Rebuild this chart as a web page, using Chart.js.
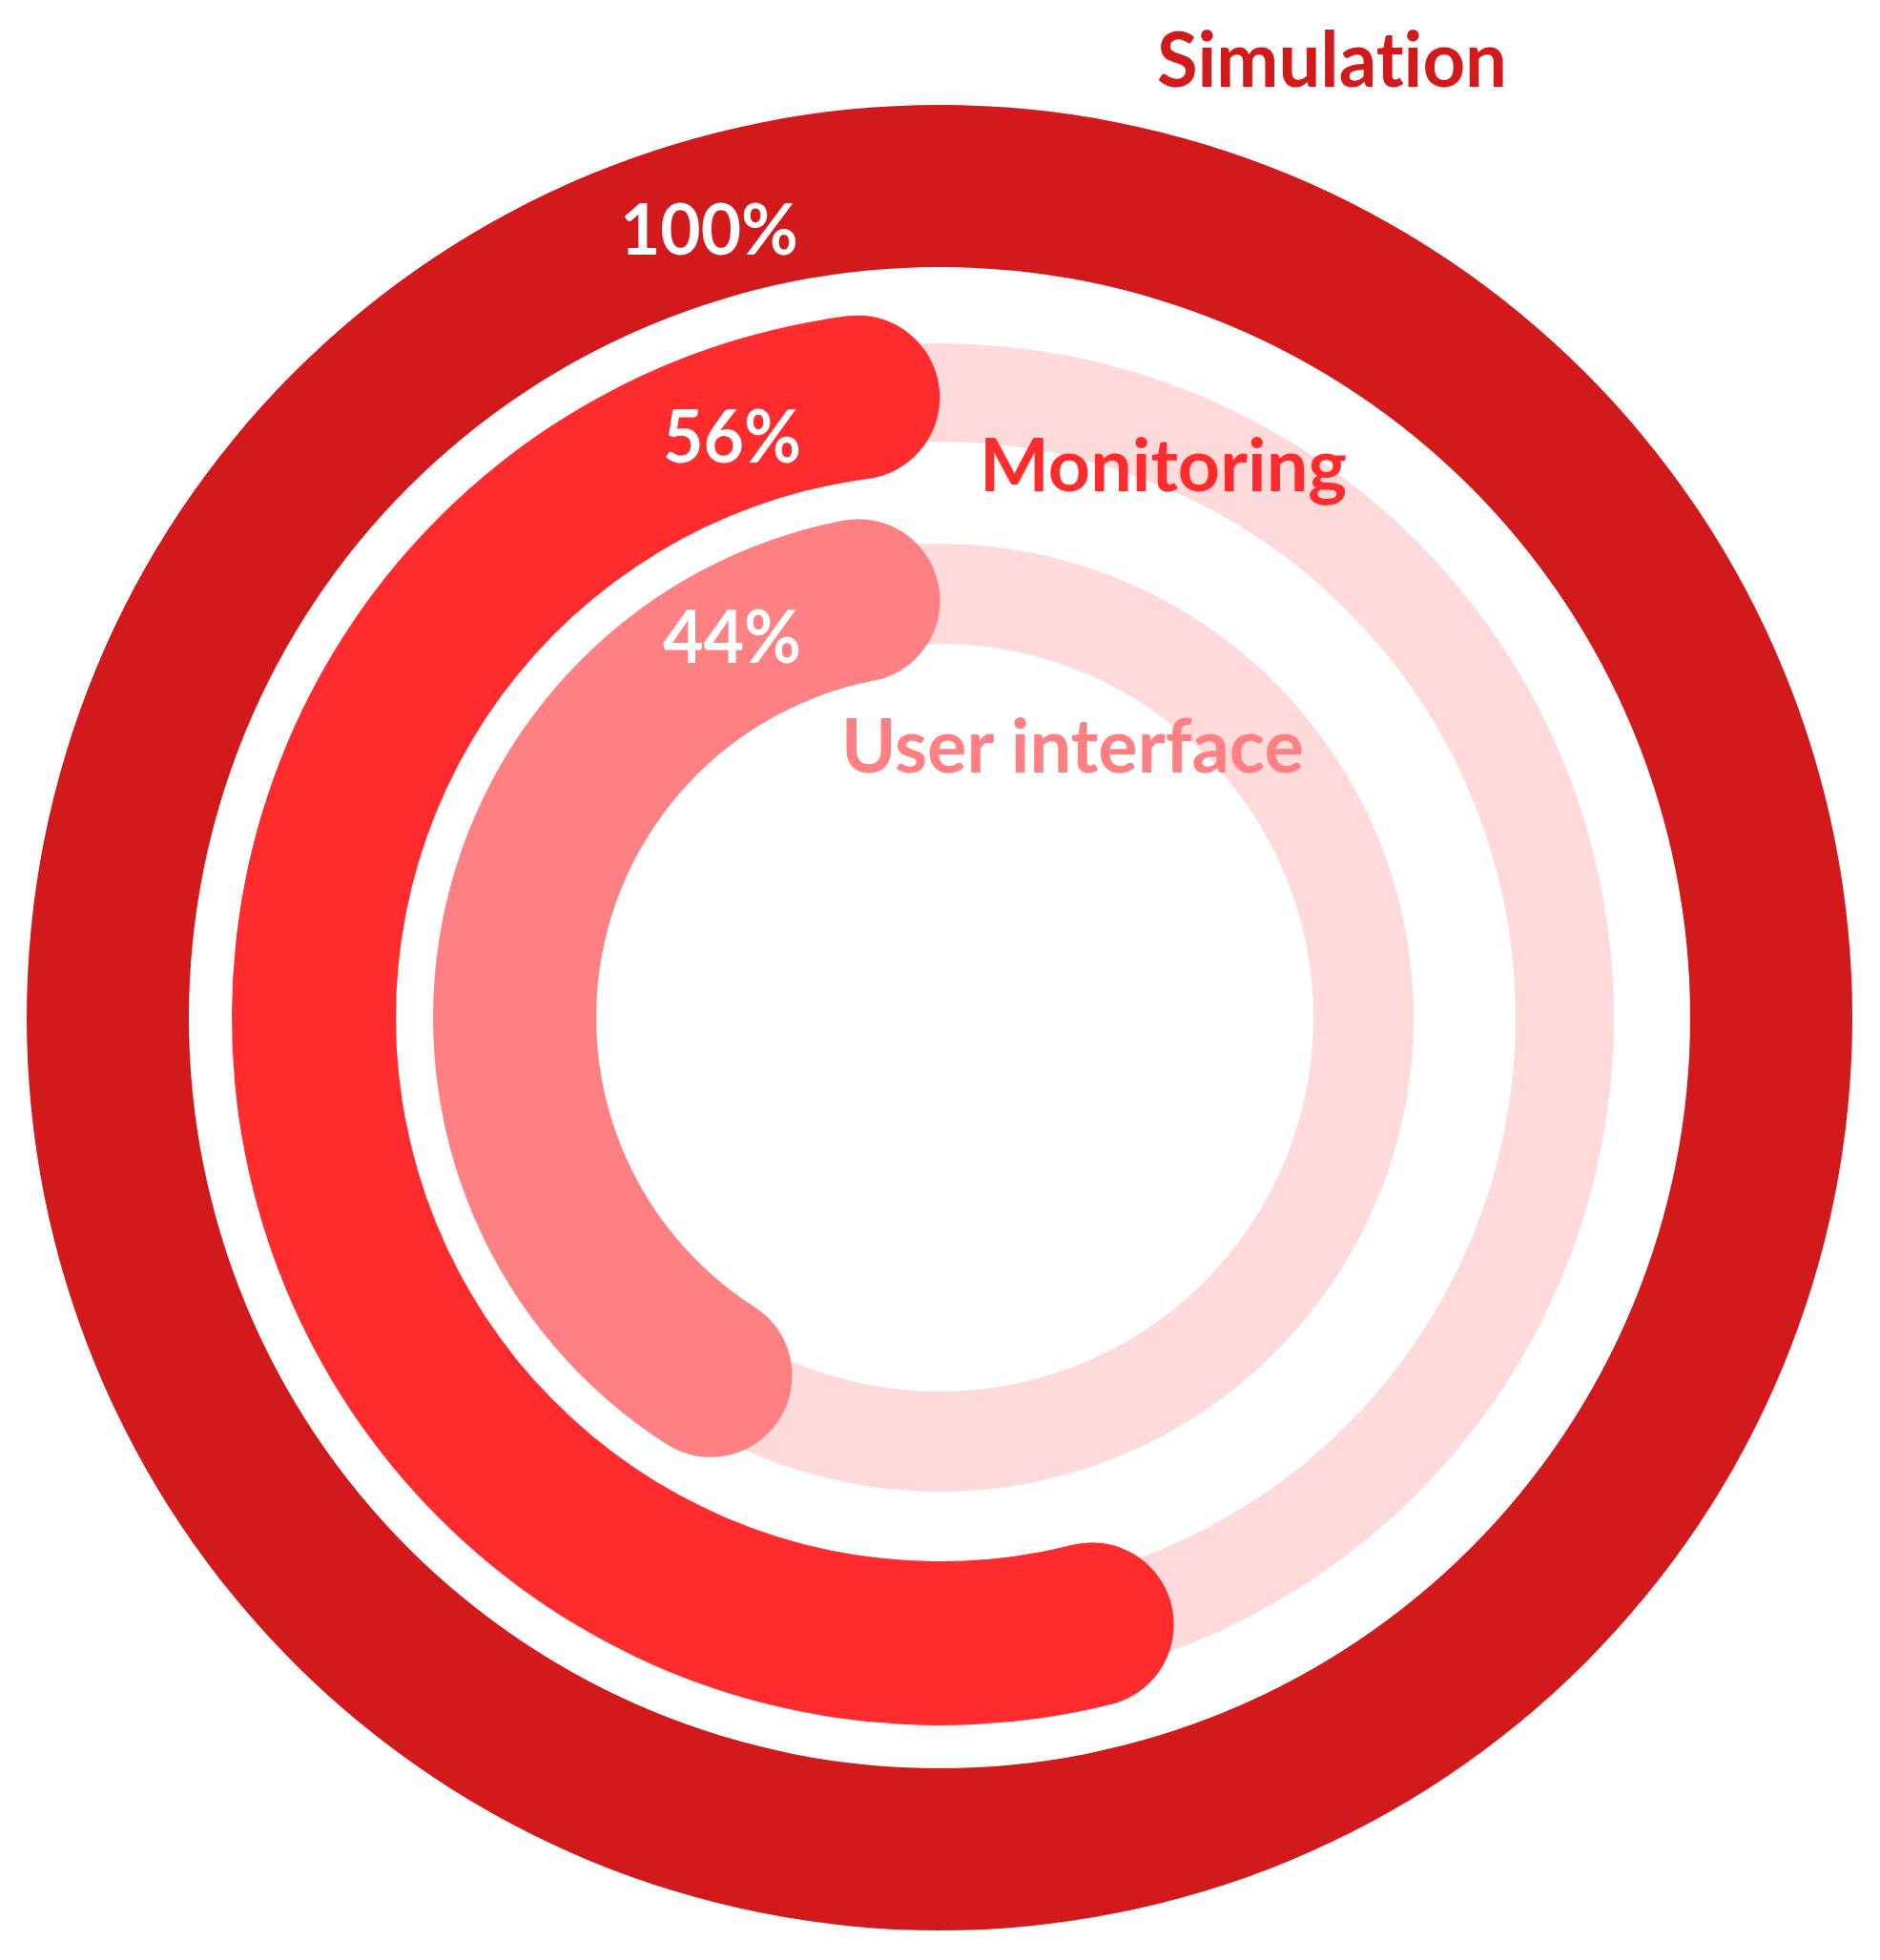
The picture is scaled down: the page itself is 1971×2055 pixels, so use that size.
<!DOCTYPE html>
<html>
<head>
<meta charset="utf-8">
<script src="https://cdn.jsdelivr.net/npm/chart.js@4.4.1/dist/chart.umd.min.js"></script>
<style>
  html, body { margin: 0; padding: 0; background: #ffffff; }
  #wrap { position: relative; width: 1971px; height: 2055px; overflow: hidden; background: #ffffff; }
  .layer { position: absolute; left: 28px; top: 110px; width: 1914px; height: 1914px; }
  #labels { position: absolute; left: 0; top: 0; pointer-events: none; }
  #labels text { font-family: Lato, "Open Sans", sans-serif; font-weight: 700;
    font-variant-ligatures: none; font-feature-settings: "liga" 0, "clig" 0; }
</style>
</head>
<body>
<div id="wrap">
  <canvas id="back" class="layer" width="1914" height="1914"></canvas>
  <canvas id="front" class="layer" width="1914" height="1914"></canvas>
  <svg id="labels" width="1971" height="2055" xmlns="http://www.w3.org/2000/svg"></svg>
</div>
<script>
// ---- data ----
const categories = ['Simulation', 'Monitoring', 'User interface'];
const percentValues = [100, 56, 44];
const fullScale = 100;

// ---- styles ----
const COLOR_SIM = '#D21A1D';
const COLOR_MON = '#FF2B2D';
const COLOR_UI = '#FF8082';
const COLOR_TRACK = '#FFDADB';
const CLEAR = 'rgba(0,0,0,0)';

const common = {
  responsive: false,
  maintainAspectRatio: false,
  devicePixelRatio: 1,
  animation: false,
  events: [],
  radius: 957,
  layout: { padding: 0 },
  elements: { arc: { borderWidth: 0, hoverOffset: 0, offset: 0 } },
  plugins: { legend: { display: false }, tooltip: { enabled: false } }
};

function ring(label, data, colors, weight, extra) {
  return Object.assign({ label, data, backgroundColor: colors, weight,
    borderWidth: 0, hoverOffset: 0 }, extra || {});
}

// back layer: full outer ring + pale tracks
new Chart(document.getElementById('back'), {
  type: 'doughnut',
  data: {
    labels: ['value'],
    datasets: [
      ring(categories[0], [percentValues[0]], [COLOR_SIM], 170),
      ring('gap', [1], [CLEAR], 80),
      ring(categories[1] + ' track', [fullScale], [COLOR_TRACK], 103),
      ring('gap', [1], [CLEAR], 107),
      ring(categories[2] + ' track', [fullScale], [COLOR_TRACK], 105)
    ]
  },
  options: Object.assign({}, common, { cutout: 392 })
});

// front layer: progress arcs (counter-clockwise from the top)
new Chart(document.getElementById('front'), {
  type: 'doughnut',
  data: {
    labels: ['rest', 'value'],
    datasets: [
      ring('spacer', [1], [CLEAR], 215),
      ring(categories[1], [fullScale - percentValues[1], percentValues[1]], [CLEAR, COLOR_MON], 172, { borderRadius: 86 }),
      ring('gap', [1], [CLEAR], 39),
      ring(categories[2], [fullScale - percentValues[2], percentValues[2]], [CLEAR, COLOR_UI], 171, { borderRadius: 86 })
    ]
  },
  options: Object.assign({}, common, { cutout: 360 })
});

// ---- text labels ----
const svg = document.getElementById('labels');
const NS = 'http://www.w3.org/2000/svg';
function addText(str, x, y, size, width, color) {
  const t = document.createElementNS(NS, 'text');
  t.setAttribute('x', x);
  t.setAttribute('y', y);
  t.setAttribute('font-size', size);
  t.setAttribute('fill', color);
  t.setAttribute('textLength', width);
  t.setAttribute('lengthAdjust', 'spacingAndGlyphs');
  t.textContent = str;
  svg.appendChild(t);
}
addText(categories[0], 1213, 91, 80, 367, COLOR_SIM);
addText(categories[1], 1027, 515, 77, 385, COLOR_MON);
addText(categories[2], 882, 810, 78, 485, COLOR_UI);
addText(percentValues[0] + '%', 650, 267, 75, 187, '#ffffff');
addText(percentValues[1] + '%', 695, 485, 77, 145, '#ffffff');
addText(percentValues[2] + '%', 695, 695, 77, 145, '#ffffff');
</script>
</body>
</html>
